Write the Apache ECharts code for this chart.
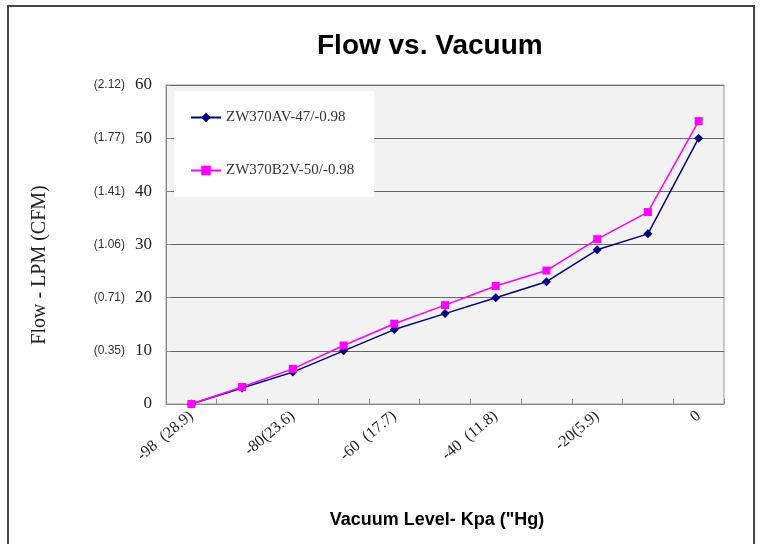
<!DOCTYPE html>
<html>
<head>
<meta charset="utf-8">
<script src="https://cdn.jsdelivr.net/npm/echarts@6/dist/echarts.min.js"></script>
<style>
  html, body { margin: 0; padding: 0; background: #fff; }
  #chart { width: 760px; height: 544px; }
</style>
</head>
<body>
<div id="chart"></div>
<script>
// vacuum level (kPa / "Hg) - only every other category is labelled
const categories = ['-98  (28.9)', '', '-80(23.6)', '', '-60  (17.7)', '', '-40  (11.8)', '', '-20(5.9)', '', '0'];
const seriesNames = ['ZW370AV-47/-0.98', 'ZW370B2V-50/-0.98'];
const av47 = [0, 3, 6, 10, 14, 17, 20, 23, 29, 32, 50];
const b2v50 = [0, 3.2, 6.6, 11, 15.1, 18.6, 22.2, 25.1, 31, 36.1, 53.2];
// CFM equivalents shown next to the LPM ticks
const lpmTicks = [0, 10, 20, 30, 40, 50, 60];
const cfmTicks = ['', '(0.35)', '(0.71)', '(1.06)', '(1.41)', '(1.77)', '(2.12)'];

let myChart = echarts.init(document.getElementById('chart'));
let option = {
  animation: false,
  backgroundColor: '#fff',
  title: {
    text: 'Flow vs. Vacuum',
    left: 312,
    top: 27,
    textStyle: {
      fontFamily: 'Liberation Sans',
      fontWeight: 'bold',
      fontSize: 28,
      color: '#000'
    }
  },
  grid: {
    left: 166,
    right: 36,
    top: 85,
    bottom: 140,
    show: true,
    backgroundColor: '#f2f2f2',
    borderColor: '#999',
    borderWidth: 1
  },
  legend: {
    orient: 'vertical',
    left: 174,
    top: 91,
    backgroundColor: '#fff',
    padding: [19, 20, 19, 16],
    itemGap: 38,
    itemWidth: 30,
    itemHeight: 12,
    data: seriesNames,
    textStyle: {
      fontFamily: 'Liberation Serif',
      fontSize: 15,
      color: '#333'
    }
  },
  graphic: [
    {
      type: 'polyline',
      shape: { points: [[8, 560], [8, 6], [754, 6], [754, 560]] },
      style: { stroke: '#444', lineWidth: 2, fill: null }
    },
    {
      type: 'text',
      x: 40,
      y: 265,
      rotation: Math.PI / 2,
      style: {
        text: 'Flow - LPM (CFM)',
        fontFamily: 'Liberation Serif',
        fontSize: 20,
        fill: '#222',
        align: 'center',
        verticalAlign: 'middle'
      }
    },
    {
      type: 'text',
      x: 437,
      y: 520,
      style: {
        text: 'Vacuum Level- Kpa ("Hg)',
        fontFamily: 'Liberation Sans',
        fontWeight: 'bold',
        fontSize: 18,
        fill: '#000',
        align: 'center',
        verticalAlign: 'middle'
      }
    }
  ],
  xAxis: {
    type: 'category',
    data: categories,
    boundaryGap: true,
    axisLine: { show: true, lineStyle: { color: '#888', width: 1 } },
    axisTick: { show: true, inside: true, length: 5, interval: 0, lineStyle: { color: '#888' } },
    axisLabel: {
      interval: 0,
      rotate: 40,
      margin: 10,
      fontFamily: 'Liberation Serif',
      fontSize: 16,
      color: '#222'
    },
    splitLine: { show: false }
  },
  yAxis: {
    type: 'value',
    min: 0,
    max: 60,
    interval: 10,
    axisLine: { show: true, lineStyle: { color: '#888', width: 1 } },
    axisTick: { show: true, inside: true, length: 5, lineStyle: { color: '#888' } },
    splitLine: { show: true, lineStyle: { color: '#666', width: 1.2 } },
    axisLabel: {
      margin: 14,
      formatter: function (v) {
        let i = lpmTicks.indexOf(v);
        let cfm = i >= 0 ? cfmTicks[i] : '';
        return (cfm ? '{p|' + cfm + '}' : '') + '{n|' + v + '}';
      },
      rich: {
        p: { fontFamily: 'Liberation Sans', fontSize: 12, color: '#333' },
        n: { fontFamily: 'Liberation Serif', fontSize: 17, color: '#222', width: 27, align: 'right' }
      }
    }
  },
  series: [
    {
      name: seriesNames[0],
      type: 'line',
      data: av47,
      symbol: 'diamond',
      symbolSize: 9,
      itemStyle: { color: '#000080' },
      lineStyle: { color: '#000080', width: 1.5 }
    },
    {
      name: seriesNames[1],
      type: 'line',
      data: b2v50,
      symbol: 'rect',
      symbolSize: 8,
      itemStyle: { color: '#ff00ff' },
      lineStyle: { color: '#ff00ff', width: 1.5 }
    }
  ]
};
myChart.setOption(option);
</script>
</body>
</html>
